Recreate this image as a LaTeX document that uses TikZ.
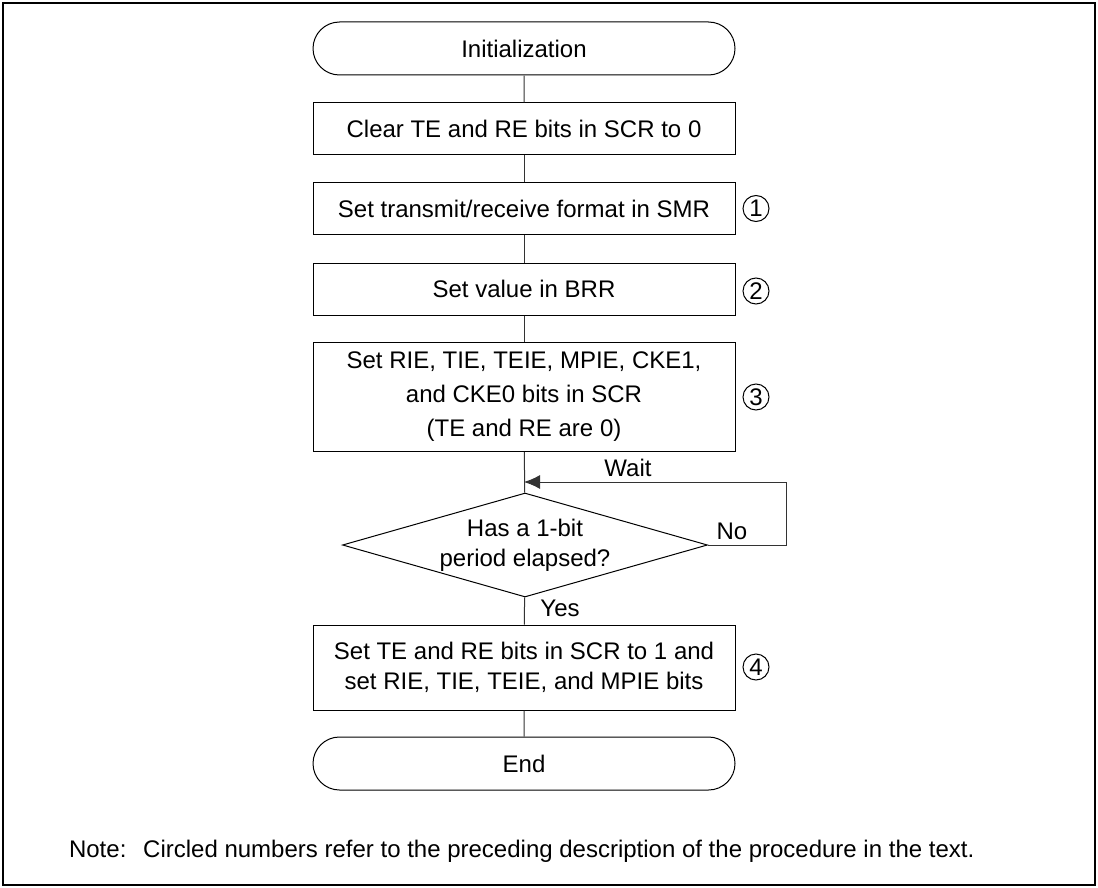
\documentclass[tikz,border=0pt]{standalone}
\usepackage{fontspec}
\setmainfont{Liberation Sans}
\usetikzlibrary{shapes.geometric,shapes.misc,arrows.meta}

\begin{document}
\begin{tikzpicture}[x=0.5pt,y=0.5pt,
 font=\fontsize{12}{15}\selectfont,
 stepbox/.style={draw,line width=0.5pt,minimum width=211pt,minimum height=26pt,align=center,inner sep=0pt},
 termbox/.style={stepbox,rounded rectangle,minimum height=26.5pt},
 flow/.style={line width=0.5pt,color=black!80},
 circnum/.style={draw,circle,line width=0.5pt,minimum size=13pt,inner sep=0pt,font=\fontsize{12}{12}\selectfont}
]
\useasboundingbox (0,0) rectangle (1098,-888);
%frame
\draw[line width=0.8pt] (3,-3) rectangle (1095,-885);

%steps
\node[termbox] (init) at (524,-48.5) {Initialization};
\node[stepbox] (clr) at (524,-129) {Clear TE and RE bits in SCR to 0};
\node[stepbox] (smr) at (524,-208.5) {Set transmit/receive format in SMR};
\node[stepbox] (brr) at (524,-289) {Set value in BRR};
\node[stepbox,minimum height=54.5pt] (scr) at (524,-397)
 {Set RIE, TIE, TEIE, MPIE, CKE1,\\[2pt] and CKE0 bits in SCR\\[2pt] (TE and RE are 0)};
\node[draw,diamond,line width=0.5pt,shape aspect=3.5,minimum width=182.5pt,minimum height=52pt,inner sep=0pt,align=center] (dec) at (525,-545)
 {Has a 1-bit\\period elapsed?};
\node[stepbox,minimum height=42.5pt] (ena) at (524,-667.5)
 {Set TE and RE bits in SCR to 1 and\\set RIE, TIE, TEIE, and MPIE bits};
\node[termbox] (fin) at (524,-763.5) {End};

%circled numbers
\node[circnum] (n1) at (756,-208.5) {1};
\node[circnum] (n2) at (756,-291) {2};
\node[circnum] (n3) at (756,-397) {3};
\node[circnum] (n4) at (756,-667) {4};

%connectors
\draw[flow] (init) -- (clr);
\draw[flow] (clr) -- (smr);
\draw[flow] (smr) -- (brr);
\draw[flow] (brr) -- (scr);
\draw[flow] (scr) -- (dec);
\draw[flow] (dec) -- (ena);
\draw[flow] (ena) -- (fin);

%wait loop
\coordinate (wt) at (524,-482);
\coordinate (lp) at (786,-482);
\draw[flow,-{Latex[length=8pt,width=7pt]}] (dec.east) -| (lp) -- (wt);
\node (wait) at (628,-468) {Wait};
\node (no) at (732,-531) {No};
\node (yes) at (560,-608) {Yes};

%note
\node[anchor=west] (note) at (62,-851) {Note:\hspace{0.7em}Circled numbers refer to the preceding description of the procedure in the text.};
\end{tikzpicture}
\end{document}
